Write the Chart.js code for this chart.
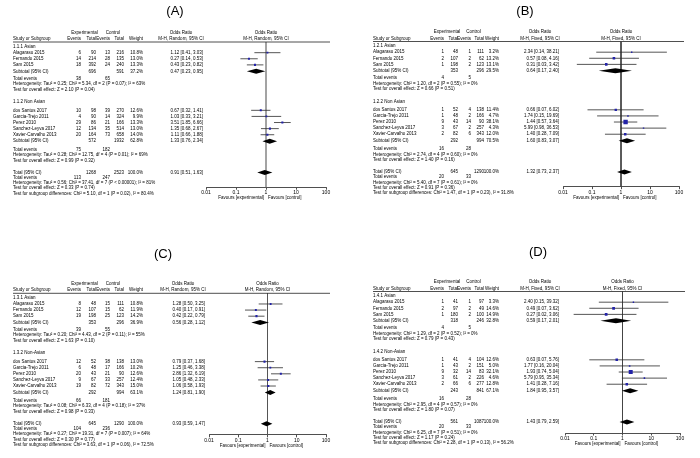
<!DOCTYPE html>
<html><head><meta charset="utf-8">
<script src="https://cdn.jsdelivr.net/npm/chart.js@4.4.1/dist/chart.umd.min.js"></script>
<style>
html,body{margin:0;padding:0;background:#fff;}
#wrap{position:relative;width:700px;height:458px;overflow:hidden;background:#fff;}
canvas{position:absolute;}
</style></head><body><div id="wrap">
<canvas id="cA" width="350" height="229" style="left:0;top:0"></canvas>
<canvas id="cB" width="350" height="229" style="left:350px;top:0"></canvas>
<canvas id="cC" width="350" height="229" style="left:0;top:229px"></canvas>
<canvas id="cD" width="350" height="229" style="left:350px;top:229px"></canvas>
</div>
<script>
// ---------------- DATA ----------------
const studyNames = ['Alagarasu 2015','Fernando 2015','Sam 2015','dos Santos 2017','Garcia-Trejo 2011','Perez 2010','Sanchez-Leyva 2017','Xavier-Carvalho 2013'];
const tickValues = [0.01, 0.1, 1, 10, 100];
const tickLabels = ['0.01', '0.1', '1', '10', '100'];
const favourLabels = ['Favours [experimental]', 'Favours [control]'];

// (A) random effects
const aHeadings = ['1.1.1 Asian', '1.1.2 Non Asian'];
const aExpEvents = [6, 14, 18, 10, 4, 29, 12, 20];
const aExpTotal  = [90, 214, 392, 98, 90, 86, 134, 164];
const aCtlEvents = [13, 28, 24, 39, 14, 21, 35, 73];
const aCtlTotal  = [216, 135, 240, 270, 324, 166, 514, 658];
const aWeight    = [10.8, 13.0, 13.3, 12.6, 9.9, 13.3, 13.0, 14.0];
const aOR        = [1.12, 0.27, 0.43, 0.67, 1.03, 3.51, 1.35, 1.11];
const aLow       = [0.41, 0.14, 0.23, 0.32, 0.33, 1.85, 0.68, 0.66];
const aHigh      = [3.03, 0.53, 0.82, 1.41, 3.21, 6.66, 2.67, 1.88];
const aSubExpTotal = [696, 572], aSubCtlTotal = [591, 1932], aSubWeight = [37.2, 62.8];
const aSubOR = [0.47, 1.33], aSubLow = [0.23, 0.76], aSubHigh = [0.95, 2.34];
const aSubExpEvents = [38, 75], aSubCtlEvents = [65, 182];
const aTotal = [0.91, 0.51, 1.63], aTotalN = [1268, 2523], aTotalEvents = [113, 247];
const aNotes1 = ['Heterogeneity: Tau² = 0.25; Chi² = 5.34, df = 2 (P = 0.07); I² = 63%', 'Test for overall effect: Z = 2.10 (P = 0.04)'];
const aNotes2 = ['Heterogeneity: Tau² = 0.28; Chi² = 12.75, df = 4 (P = 0.01); I² = 69%', 'Test for overall effect: Z = 0.99 (P = 0.32)'];
const aNotesT = ['Heterogeneity: Tau² = 0.56; Chi² = 37.41, df = 7 (P < 0.00001); I² = 81%', 'Test for overall effect: Z = 0.33 (P = 0.74)', 'Test for subgroup differences: Chi² = 5.10, df = 1 (P = 0.02), I² = 80.4%'];

// (B) fixed effects
const bHeadings = ['1.2.1 Asian', '1.2.2 Non Asian'];
const bExpEvents = [1, 2, 1, 1, 1, 9, 3, 2];
const bExpTotal  = [48, 107, 198, 52, 48, 43, 67, 82];
const bCtlEvents = [1, 2, 2, 4, 2, 14, 2, 6];
const bCtlTotal  = [111, 62, 123, 138, 166, 90, 257, 343];
const bWeight    = [3.2, 13.2, 13.1, 11.4, 4.7, 38.1, 4.3, 12.0];
const bOR        = [2.34, 0.57, 0.31, 0.66, 1.74, 1.44, 5.99, 1.40];
const bLow       = [0.14, 0.08, 0.03, 0.07, 0.15, 0.57, 0.98, 0.28];
const bHigh      = [38.21, 4.16, 3.42, 6.02, 19.69, 3.64, 36.53, 7.09];
const bSubExpTotal = [353, 292], bSubCtlTotal = [296, 994], bSubWeight = [29.5, 70.5];
const bSubOR = [0.64, 1.60], bSubLow = [0.17, 0.83], bSubHigh = [2.40, 3.07];
const bSubExpEvents = [4, 16], bSubCtlEvents = [5, 28];
const bTotal = [1.32, 0.73, 2.37], bTotalN = [645, 1290], bTotalEvents = [20, 33];
const bNotes1 = ['Heterogeneity: Chi² = 1.20, df = 2 (P = 0.55); I² = 0%', 'Test for overall effect: Z = 0.66 (P = 0.51)'];
const bNotes2 = ['Heterogeneity: Chi² = 2.74, df = 4 (P = 0.60); I² = 0%', 'Test for overall effect: Z = 1.40 (P = 0.16)'];
const bNotesT = ['Heterogeneity: Chi² = 5.40, df = 7 (P = 0.61); I² = 0%', 'Test for overall effect: Z = 0.91 (P = 0.36)', 'Test for subgroup differences: Chi² = 1.47, df = 1 (P = 0.23), I² = 31.8%'];

// (C) random effects
const cHeadings = ['1.3.1 Asian', '1.3.2 Non-Asian'];
const cExpEvents = [8, 12, 19, 12, 6, 20, 9, 19];
const cExpTotal  = [48, 107, 198, 52, 48, 43, 67, 82];
const cCtlEvents = [15, 15, 25, 38, 17, 21, 33, 72];
const cCtlTotal  = [111, 62, 123, 138, 166, 90, 257, 343];
const cWeight    = [10.8, 11.9, 14.2, 13.0, 10.2, 12.6, 12.4, 15.0];
const cOR        = [1.28, 0.40, 0.42, 0.79, 1.25, 2.86, 1.05, 1.06];
const cLow       = [0.50, 0.17, 0.22, 0.37, 0.46, 1.32, 0.48, 0.58];
const cHigh      = [3.25, 0.91, 0.79, 1.68, 3.38, 6.19, 2.33, 1.93];
const cSubExpTotal = [353, 292], cSubCtlTotal = [296, 994], cSubWeight = [36.9, 63.1];
const cSubOR = [0.56, 1.24], cSubLow = [0.28, 0.81], cSubHigh = [1.12, 1.90];
const cSubExpEvents = [39, 66], cSubCtlEvents = [55, 181];
const cTotal = [0.93, 0.59, 1.47], cTotalN = [645, 1290], cTotalEvents = [104, 236];
const cNotes1 = ['Heterogeneity: Tau² = 0.20; Chi² = 4.43, df = 2 (P = 0.11); I² = 55%', 'Test for overall effect: Z = 1.63 (P = 0.10)'];
const cNotes2 = ['Heterogeneity: Tau² = 0.08; Chi² = 6.33, df = 4 (P = 0.18); I² = 37%', 'Test for overall effect: Z = 0.98 (P = 0.33)'];
const cNotesT = ['Heterogeneity: Tau² = 0.27; Chi² = 19.31, df = 7 (P = 0.007); I² = 64%', 'Test for overall effect: Z = 0.30 (P = 0.77)', 'Test for subgroup differences: Chi² = 3.63, df = 1 (P = 0.06), I² = 72.5%'];

// (D) fixed effects
const dHeadings = ['1.4.1 Asian', '1.4.2 Non-Asian'];
const dExpEvents = [1, 2, 1, 1, 1, 9, 3, 2];
const dExpTotal  = [41, 97, 180, 41, 43, 32, 61, 66];
const dCtlEvents = [1, 2, 2, 4, 2, 14, 2, 6];
const dCtlTotal  = [97, 49, 100, 104, 151, 83, 226, 277];
const dWeight    = [3.3, 14.6, 14.9, 12.6, 5.0, 32.1, 4.6, 12.8];
const dOR        = [2.40, 0.49, 0.27, 0.63, 1.77, 1.93, 5.79, 1.41];
const dLow       = [0.15, 0.07, 0.02, 0.07, 0.16, 0.74, 0.95, 0.28];
const dHigh      = [39.32, 3.62, 3.06, 5.76, 20.04, 5.04, 35.34, 7.16];
const dSubExpTotal = [318, 243], dSubCtlTotal = [246, 841], dSubWeight = [32.8, 67.1];
const dSubOR = [0.59, 1.84], dSubLow = [0.17, 0.95], dSubHigh = [2.01, 3.57];
const dSubExpEvents = [4, 16], dSubCtlEvents = [5, 28];
const dTotal = [1.43, 0.79, 2.59], dTotalN = [561, 1087], dTotalEvents = [20, 33];
const dNotes1 = ['Heterogeneity: Chi² = 1.29, df = 2 (P = 0.52); I² = 0%', 'Test for overall effect: Z = 0.79 (P = 0.43)'];
const dNotes2 = ['Heterogeneity: Chi² = 2.95, df = 4 (P = 0.57); I² = 0%', 'Test for overall effect: Z = 1.80 (P = 0.07)'];
const dNotesT = ['Heterogeneity: Chi² = 6.25, df = 7 (P = 0.51); I² = 0%', 'Test for overall effect: Z = 1.17 (P = 0.24)', 'Test for subgroup differences: Chi² = 2.28, df = 1 (P = 0.13), I² = 56.2%'];

// ---------------- LAYOUT (row positions in row units, below header rule) ----------------
const ROWS = {
  hdr1: -1.55, hdr2: -0.5,
  heading: [0.75, 9.8],
  study: [1.75, 2.75, 3.75, 11.2, 12.2, 13.2, 14.2, 15.2],
  sub: [4.8, 16.25], te: [5.95, 17.6], het: [6.85, 18.5], test: [7.75, 19.4],
  total: 21.4, totalNotes: [22.25, 23.1, 23.95, 24.8]
};
const FONT = "'Liberation Sans', Arial, sans-serif";
const AXIS_BOX = 14;

function fmtOR(o, l, h) { return o.toFixed(2) + ' [' + l.toFixed(2) + ', ' + h.toFixed(2) + ']'; }

function buildPanel(canvasId, D, G) {
  const axisPx = G.underline + G.axisU * G.unit;
  const squares = D.or.map((v, i) => ({ x: v, y: ROWS.study[i] }));
  const datasets = [];
  datasets.push({ type: 'scatter', data: squares, pointStyle: 'rect',
    pointRadius: D.weight.map(w => Math.max(1.0, G.boxK * Math.sqrt(w))),
    backgroundColor: '#2323a8', borderWidth: 0 });
  D.or.forEach((v, i) => datasets.push({ type: 'line',
    data: [{ x: D.lo[i], y: ROWS.study[i] }, { x: D.hi[i], y: ROWS.study[i] }],
    borderColor: '#2b2b2b', borderWidth: 0.8, pointRadius: 0 }));
  datasets.push({ type: 'line', data: [{ x: 1, y: 0 }, { x: 1, y: G.axisU }],
    borderColor: G.nullColor, borderWidth: G.nullWidth, pointRadius: 0 });

  const plugin = {
    id: 'forest' + canvasId,
    afterDatasetsDraw(chart) {
      const ctx = chart.ctx, xs = chart.scales.x, ys = chart.scales.y;
      ctx.save();
      ctx.fillStyle = '#000';
      const dia = (o, l, h, u) => {
        const y = ys.getPixelForValue(u), hh = 2.5;
        ctx.beginPath();
        ctx.moveTo(xs.getPixelForValue(l), y);
        ctx.lineTo(xs.getPixelForValue(o), y - hh);
        ctx.lineTo(xs.getPixelForValue(h), y);
        ctx.lineTo(xs.getPixelForValue(o), y + hh);
        ctx.closePath(); ctx.fill();
      };
      D.subOR.forEach((o, k) => dia(o, D.subLow[k], D.subHigh[k], ROWS.sub[k]));
      dia(D.total[0], D.total[1], D.total[2], ROWS.total);
      ctx.restore();
    },
    afterDraw(chart) {
      const ctx = chart.ctx, xs = chart.scales.x, ys = chart.scales.y;
      const X = v => v - G.left;
      const Y = u => ys.getPixelForValue(u);
      ctx.save();
      ctx.fillStyle = '#000';
      ctx.textBaseline = 'middle';
      const put = (s, x, u, align, size) => {
        ctx.font = (size || G.fs) + 'px ' + FONT;
        ctx.textAlign = align || 'left';
        ctx.fillText(String(s), X(x), Y(u));
      };
      const c = G.cols;
      // title
      ctx.font = '13px ' + FONT; ctx.textAlign = 'center';
      ctx.fillText(G.title, X(G.titleX), G.titleY - G.top);
      // headers
      const one = xs.getPixelForValue(1) + G.left;
      put('Experimental', (c[0] + c[1]) / 2 - 4, ROWS.hdr1, 'center');
      put('Control', (c[2] + c[3]) / 2 - 4, ROWS.hdr1, 'center');
      put('Odds Ratio', G.orHdrX, ROWS.hdr1, 'center');
      put('Odds Ratio', one, ROWS.hdr1, 'center');
      put('Study or Subgroup', G.nameX, ROWS.hdr2);
      put('Events', c[0], ROWS.hdr2, 'right');
      put('Total', c[1], ROWS.hdr2, 'right');
      put('Events', c[2], ROWS.hdr2, 'right');
      put('Total', c[3], ROWS.hdr2, 'right');
      put('Weight', c[4], ROWS.hdr2, 'right');
      put(G.method, G.orHdrX, ROWS.hdr2, 'center');
      put(G.method, one, ROWS.hdr2, 'center');
      // header rule
      ctx.strokeStyle = '#222'; ctx.lineWidth = 0.8;
      ctx.beginPath(); ctx.moveTo(X(G.nameX), Y(0)); ctx.lineTo(X(G.lineEnd), Y(0)); ctx.stroke();
      // rows
      for (let k = 0; k < 2; k++) {
        put(D.headings[k], G.nameX, ROWS.heading[k]);
        const idx = k === 0 ? [0, 1, 2] : [3, 4, 5, 6, 7];
        idx.forEach(i => {
          const u = ROWS.study[i];
          put(studyNames[i], G.nameX, u);
          put(D.expE[i], c[0], u, 'right');
          put(D.expT[i], c[1], u, 'right');
          put(D.ctlE[i], c[2], u, 'right');
          put(D.ctlT[i], c[3], u, 'right');
          put(D.weight[i].toFixed(1) + '%', c[4], u, 'right');
          put(fmtOR(D.or[i], D.lo[i], D.hi[i]), G.orX, u, 'right');
        });
        put('Subtotal (95% CI)', G.nameX, ROWS.sub[k]);
        put(D.subExpT[k], c[1], ROWS.sub[k], 'right');
        put(D.subCtlT[k], c[3], ROWS.sub[k], 'right');
        put(D.subWeight[k].toFixed(1) + '%', c[4], ROWS.sub[k], 'right');
        put(fmtOR(D.subOR[k], D.subLow[k], D.subHigh[k]), G.orX, ROWS.sub[k], 'right');
        put('Total events', G.nameX, ROWS.te[k]);
        put(D.subExpE[k], c[0], ROWS.te[k], 'right');
        put(D.subCtlE[k], c[2], ROWS.te[k], 'right');
        put(D.notes[k][0], G.nameX, ROWS.het[k]);
        put(D.notes[k][1], G.nameX, ROWS.test[k]);
      }
      put('Total (95% CI)', G.nameX, ROWS.total);
      put(D.totalN[0], c[1], ROWS.total, 'right');
      put(D.totalN[1], c[3], ROWS.total, 'right');
      put('100.0%', c[4], ROWS.total, 'right');
      put(fmtOR(D.total[0], D.total[1], D.total[2]), G.orX, ROWS.total, 'right');
      put('Total events', G.nameX, ROWS.totalNotes[0]);
      put(D.totalEvents[0], c[0], ROWS.totalNotes[0], 'right');
      put(D.totalEvents[1], c[2], ROWS.totalNotes[0], 'right');
      D.notesT.forEach((s, j) => put(s, G.nameX, ROWS.totalNotes[j + 1]));
      // favours labels
      ctx.font = G.fs + 'px ' + FONT;
      const fy = chart.chartArea.bottom + 11;
      ctx.textAlign = 'right'; ctx.fillText(favourLabels[0], xs.getPixelForValue(1) - 2, fy);
      ctx.textAlign = 'left'; ctx.fillText(favourLabels[1], xs.getPixelForValue(1) + 2, fy);
      ctx.restore();
    }
  };

  return new Chart(document.getElementById(canvasId), {
    type: 'scatter',
    data: { datasets },
    plugins: [plugin],
    options: {
      responsive: false, animation: false, events: [],
      layout: { padding: { left: G.plotL - G.left, right: G.left + 350 - G.plotR,
                           top: G.underline - G.top, bottom: G.top + 229 - axisPx - AXIS_BOX } },
      plugins: { legend: { display: false }, tooltip: { enabled: false } },
      scales: {
        x: {
          type: 'logarithmic', position: 'bottom', min: tickValues[0], max: tickValues[tickValues.length - 1],
          afterBuildTicks: s => { s.ticks = tickValues.map(v => ({ value: v })); },
          afterFit: s => { s.height = AXIS_BOX; },
          ticks: { callback: (v, i) => tickLabels[i], autoSkip: false, maxRotation: 0, minRotation: 0,
                   font: { size: 5, family: FONT }, color: '#000', padding: 0 },
          grid: { drawOnChartArea: false, drawTicks: true, tickLength: 2.5, color: '#222', lineWidth: 0.8 },
          border: { display: true, color: '#222', width: 0.8 }
        },
        y: { type: 'linear', min: 0, max: G.axisU, reverse: true, display: false }
      }
    }
  });
}

buildPanel('cA', {
  headings: aHeadings, expE: aExpEvents, expT: aExpTotal, ctlE: aCtlEvents, ctlT: aCtlTotal,
  weight: aWeight, or: aOR, lo: aLow, hi: aHigh,
  subExpT: aSubExpTotal, subCtlT: aSubCtlTotal, subWeight: aSubWeight, subOR: aSubOR, subLow: aSubLow, subHigh: aSubHigh,
  subExpE: aSubExpEvents, subCtlE: aSubCtlEvents, total: aTotal, totalN: aTotalN, totalEvents: aTotalEvents,
  notes: [aNotes1, aNotes2], notesT: aNotesT
}, { left: 0, top: 0, underline: 42, unit: 6.1, axisU: 23.8, plotL: 206, plotR: 326, nameX: 13,
     cols: [81, 96, 110, 124, 143], orX: 203, orHdrX: 181, lineEnd: 330, fs: 4.5, boxK: 0.4,
     title: '(A)', titleX: 175, titleY: 11, method: 'M-H, Random, 95% CI', nullColor: '#a3a3a3', nullWidth: 2 });

buildPanel('cB', {
  headings: bHeadings, expE: bExpEvents, expT: bExpTotal, ctlE: bCtlEvents, ctlT: bCtlTotal,
  weight: bWeight, or: bOR, lo: bLow, hi: bHigh,
  subExpT: bSubExpTotal, subCtlT: bSubCtlTotal, subWeight: bSubWeight, subOR: bSubOR, subLow: bSubLow, subHigh: bSubHigh,
  subExpE: bSubExpEvents, subCtlE: bSubCtlEvents, total: bTotal, totalN: bTotalN, totalEvents: bTotalEvents,
  notes: [bNotes1, bNotes2], notesT: bNotesT
}, { left: 350, top: 0, underline: 41.5, unit: 6.1, axisU: 23.8, plotL: 563, plotR: 679, nameX: 373,
     cols: [444, 458, 471, 484, 499], orX: 559, orHdrX: 540, lineEnd: 684, fs: 4.5, boxK: 0.5,
     title: '(B)', titleX: 525, titleY: 11, method: 'M-H, Fixed, 95% CI', nullColor: '#444', nullWidth: 1 });

buildPanel('cC', {
  headings: cHeadings, expE: cExpEvents, expT: cExpTotal, ctlE: cCtlEvents, ctlT: cCtlTotal,
  weight: cWeight, or: cOR, lo: cLow, hi: cHigh,
  subExpT: cSubExpTotal, subCtlT: cSubCtlTotal, subWeight: cSubWeight, subOR: cSubOR, subLow: cSubLow, subHigh: cSubHigh,
  subExpE: cSubExpEvents, subCtlE: cSubCtlEvents, total: cTotal, totalN: cTotalN, totalEvents: cTotalEvents,
  notes: [cNotes1, cNotes2], notesT: cNotesT
}, { left: 0, top: 229, underline: 293.3, unit: 6.1, axisU: 23.2, plotL: 209, plotR: 326, nameX: 13,
     cols: [81, 96, 110, 124, 143], orX: 205, orHdrX: 183, lineEnd: 330, fs: 4.5, boxK: 0.4,
     title: '(C)', titleX: 163, titleY: 254, method: 'M-H, Random, 95% CI', nullColor: '#555', nullWidth: 1 });

buildPanel('cD', {
  headings: dHeadings, expE: dExpEvents, expT: dExpTotal, ctlE: dCtlEvents, ctlT: dCtlTotal,
  weight: dWeight, or: dOR, lo: dLow, hi: dHigh,
  subExpT: dSubExpTotal, subCtlT: dSubCtlTotal, subWeight: dSubWeight, subOR: dSubOR, subLow: dSubLow, subHigh: dSubHigh,
  subExpE: dSubExpEvents, subCtlE: dSubCtlEvents, total: dTotal, totalN: dTotalN, totalEvents: dTotalEvents,
  notes: [dNotes1, dNotes2], notesT: dNotesT
}, { left: 350, top: 229, underline: 291.5, unit: 6.1, axisU: 23.2, plotL: 565, plotR: 680, nameX: 373,
     cols: [444, 458, 471, 484, 499], orX: 559, orHdrX: 540, lineEnd: 685, fs: 4.5, boxK: 0.5,
     title: '(D)', titleX: 538, titleY: 252, method: 'M-H, Fixed, 95% CI', nullColor: '#444', nullWidth: 1 });
</script></body></html>
